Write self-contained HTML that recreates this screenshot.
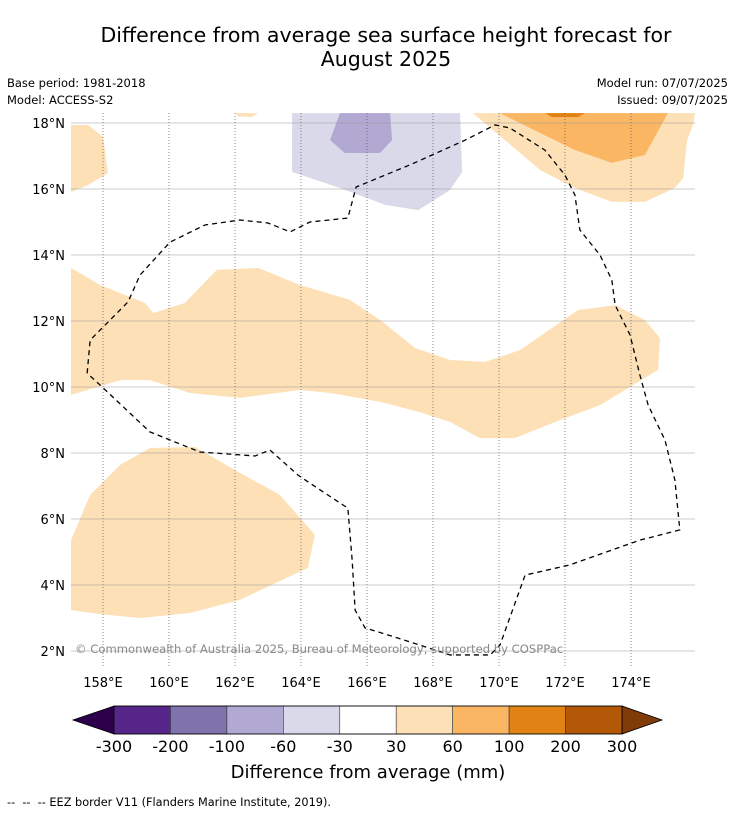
<!DOCTYPE html>
<html><head><meta charset="utf-8">
<style>
body{margin:0;background:#fff;font-family:"DejaVu Sans","Liberation Sans",sans-serif;}
#wrap{position:relative;width:736px;height:816px;overflow:hidden;}
.t{position:absolute;white-space:nowrap;color:#000;}
svg text{font-family:"DejaVu Sans","Liberation Sans",sans-serif;}
</style></head>
<body>
<div id="wrap">
<div class="t" style="left:0;width:772px;top:23px;text-align:center;font-size:20.5px;line-height:24px;">Difference from average sea surface height forecast for<br>August 2025</div>
<div class="t" style="left:7px;top:76px;font-size:11.5px;">Base period: 1981-2018</div>
<div class="t" style="left:7px;top:93px;font-size:11.5px;">Model: ACCESS-S2</div>
<div class="t" style="right:8px;top:76px;font-size:11.5px;">Model run: 07/07/2025</div>
<div class="t" style="right:8px;top:93px;font-size:11.5px;">Issued: 09/07/2025</div>
<svg id="map" width="736" height="816" style="position:absolute;left:0;top:0"></svg>
<div class="t" style="left:7px;top:796px;font-size:11.3px;">--&nbsp; --&nbsp; -- EEZ border V11 (Flanders Marine Institute, 2019).</div>
</div>
<script>
const lonTicks=[158,160,162,164,166,168,170,172,174];
const latTicks=[2,4,6,8,10,12,14,16,18];
const cbLabels=["-300","-200","-100","-60","-30","30","60","100","200","300"];
const cbColors=["#57268a","#7f72ad","#b1a9d1","#d9d9ea","#ffffff","#fde0b6","#fbb663","#e08214","#b35806"];
const band=[[157.03,13.61],[157.91,13.09],[159.27,12.55],[159.52,12.24],[160.48,12.55],[161.45,13.55],[162.7,13.61],[163.97,13.09],[165.48,12.64],[166.48,11.97],[167.45,11.18],[168.52,10.82],[169.58,10.76],[170.64,11.12],[172.39,12.33],[173.52,12.48],[174.42,12.03],[174.88,11.48],[174.82,10.52],[173.06,9.45],[171.85,9.0],[170.48,8.45],[169.42,8.45],[168.52,8.94],[167.6,9.24],[166.4,9.55],[164.9,9.82],[163.97,9.91],[162.15,9.67],[160.64,9.82],[159.42,10.21],[158.52,10.21],[157.03,9.76]];
const blobSW=[[157.03,5.36],[157.61,6.73],[158.52,7.64],[159.42,8.15],[160.79,8.18],[162.0,7.48],[163.36,6.73],[164.42,5.52],[164.21,4.52],[162.15,3.55],[160.64,3.15],[159.12,3.0],[157.91,3.12],[157.03,3.24]];
const blobNW=[[157.03,17.94],[157.55,17.94],[158.0,17.58],[158.15,16.48],[157.55,16.12],[157.03,15.91]];
const blobNE=[[169.21,18.3],[175.94,18.3],[175.88,17.94],[175.7,17.48],[175.58,16.33],[175.33,16.03],[174.42,15.61],[173.42,15.61],[172.3,16.03],[171.24,16.58],[170.18,17.48]];
const blobNE2=[[170.03,18.3],[175.12,18.3],[174.42,17.03],[173.42,16.79],[172.3,17.18],[171.24,17.7]];
const blobNE3=[[171.4,18.3],[172.6,18.3],[172.4,18.18],[171.6,18.18]];
const blobN=[[162.0,18.3],[162.7,18.3],[162.5,18.18],[162.1,18.2]];
const purp1=[[163.73,18.3],[168.82,18.3],[168.88,16.52],[168.52,15.97],[167.55,15.36],[166.55,15.52],[165.18,16.03],[163.73,16.52]];
const purp2=[[165.18,18.3],[166.7,18.3],[166.76,17.48],[166.39,17.09],[165.33,17.09],[164.88,17.48]];
const eez=[[157.52,10.42],[157.61,11.42],[158.76,12.58],[159.12,13.39],[160.03,14.39],[161.09,14.91],[162.15,15.06],[163.0,14.97],[163.67,14.7],[164.27,15.0],[165.42,15.12],[165.67,16.06],[167.3,16.73],[168.97,17.48],[169.88,17.94],[170.33,17.85],[171.39,17.18],[172.0,16.42],[172.3,15.82],[172.45,14.76],[173.06,14.0],[173.42,13.24],[173.52,12.48],[173.97,11.58],[174.27,10.36],[174.52,9.45],[175.03,8.39],[175.33,7.18],[175.48,5.67],[174.27,5.36],[172.15,4.61],[170.79,4.3],[170.03,2.18],[169.73,1.88],[168.52,1.88],[167.6,2.18],[166.85,2.42],[165.94,2.7],[165.64,3.24],[165.55,4.76],[165.42,6.33],[164.58,6.88],[163.91,7.33],[163.06,8.09],[162.61,7.91],[160.94,8.03],[159.42,8.64],[157.91,10.06],[157.52,10.42]];
const NS="http://www.w3.org/2000/svg";
const svg=document.getElementById('map');
const X=lon=>70+(lon-157)*33;
const Y=lat=>123+(18-lat)*33;
function mk(tag,attrs,parent){const e=document.createElementNS(NS,tag);for(const k in attrs)e.setAttribute(k,attrs[k]);(parent||svg).appendChild(e);return e;}
const clip=mk('clipPath',{id:'mc'});mk('rect',{x:71,y:113,width:624,height:555},clip);
const g=mk('g',{'clip-path':'url(#mc)'});
function poly(pts,fill,name){const p=mk('polygon',{points:pts.map(q=>X(q[0])+','+Y(q[1])).join(' '),fill:fill},g);

}
poly(band,cbColors[5],'anomaly-band-30-60');
poly(blobSW,cbColors[5],'anomaly-southwest-30-60');
poly(blobNW,cbColors[5],'anomaly-northwest-30-60');
poly(blobN,cbColors[5],'anomaly-north-30-60');
poly(blobNE,cbColors[5],'anomaly-northeast-30-60');
poly(blobNE2,cbColors[6],'anomaly-northeast-60-100');
poly(blobNE3,cbColors[7],'anomaly-northeast-100-200');
poly(purp1,cbColors[3],'anomaly-north-minus-30-60');
poly(purp2,cbColors[2],'anomaly-north-minus-60-100');
lonTicks.forEach(l=>{const ln=mk('line',{x1:X(l),x2:X(l),y1:113,y2:668,stroke:'#555','stroke-width':0.7,'stroke-dasharray':'1,2'},g);


const t=mk('text',{x:X(l),y:687,'text-anchor':'middle','font-size':13});t.textContent=l+'°E';

});
latTicks.forEach(l=>{const ln=mk('line',{x1:71,x2:695,y1:Y(l),y2:Y(l),stroke:'#999','stroke-width':0.6},g);


const t=mk('text',{x:65,y:Y(l)+5,'text-anchor':'end','font-size':13});t.textContent=l+'°N';

});
const e=mk('polyline',{points:eez.map(q=>X(q[0])+','+Y(q[1])).join(' '),fill:'none',stroke:'#000','stroke-width':1.3,'stroke-dasharray':'5,4'},g);


const cp=mk('text',{x:75,y:653,'font-size':11.6,fill:'#888'});cp.textContent='© Commonwealth of Australia 2025, Bureau of Meteorology, supported by COSPPac';


const cb0=114,cb1=622,cy0=706,cy1=734,w=(cb1-cb0)/cbColors.length;
const lt=mk('polygon',{points:`73,720 ${cb0},${cy0} ${cb0},${cy1}`,fill:'#2d004b',stroke:'#000','stroke-width':0.8});


const rt=mk('polygon',{points:`662,720 ${cb1},${cy0} ${cb1},${cy1}`,fill:'#7f3b08',stroke:'#000','stroke-width':0.8});


cbColors.forEach((c,i)=>{const r=mk('rect',{x:cb0+i*w,y:cy0,width:w,height:cy1-cy0,fill:c,stroke:'#333','stroke-width':0.6});

});
mk('rect',{x:cb0,y:cy0,width:cb1-cb0,height:cy1-cy0,fill:'none',stroke:'#000','stroke-width':0.8});
cbLabels.forEach((s,i)=>{const t=mk('text',{x:cb0+i*w,y:752,'text-anchor':'middle','font-size':16});t.textContent=s;

});
const ct=mk('text',{x:368,y:778,'text-anchor':'middle','font-size':18});ct.textContent='Difference from average (mm)';


</script>
</body></html>
